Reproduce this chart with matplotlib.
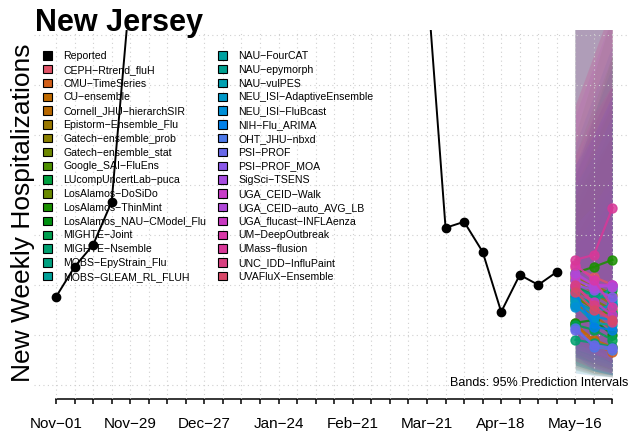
import matplotlib
matplotlib.use('Agg')
import matplotlib.pyplot as plt
import matplotlib.dates as mdates
from matplotlib.patches import Patch
import pandas as pd

plt.rcParams['font.family'] = ['Liberation Sans', 'DejaVu Sans']

W, H = 630, 433

# ---------------- data ----------------
report_dates = pd.date_range('2025-11-01', '2026-05-09', freq='7D')
report_values = [88, 118, 140, 183, 395, 720, 1150, 1680, 2250, 2400, 1900, 1450,
                 1200, 1050, 980, 900, 820, 700, 580, 470, 405, 157, 163, 133,
                 73, 110, 100, 113]

fc_dates = pd.date_range('2026-05-16', periods=3, freq='7D')

models = ['CEPH-Rtrend_fluH', 'CMU-TimeSeries', 'CU-ensemble', 'Cornell_JHU-hierarchSIR',
          'Epistorm-Ensemble_Flu', 'Gatech-ensemble_prob', 'Gatech-ensemble_stat',
          'Google_SAI-FluEns', 'LUcompUncertLab-puca', 'LosAlamos-DoSiDo',
          'LosAlamos-ThinMint', 'LosAlamos_NAU-CModel_Flu', 'MIGHTE-Joint',
          'MIGHTE-Nsemble', 'MOBS-EpyStrain_Flu', 'MOBS-GLEAM_RL_FLUH',
          'NAU-FourCAT', 'NAU-epymorph', 'NAU-vulPES', 'NEU_ISI-AdaptiveEnsemble',
          'NEU_ISI-FluBcast', 'NIH-Flu_ARIMA', 'OHT_JHU-nbxd', 'PSI-PROF',
          'PSI-PROF_MOA', 'SigSci-TSENS', 'UGA_CEID-Walk', 'UGA_CEID-auto_AVG_LB',
          'UGA_flucast-INFLAenza', 'UM-DeepOutbreak', 'UMass-flusion',
          'UNC_IDD-InfluPaint', 'UVAFluX-Ensemble']

model_colors = ['#E05468', '#D2601A', '#C06A00', '#B86800', '#9A7800', '#8A8000',
                '#6E8800', '#4E9000', '#00A040', '#6A8A00', '#1A9000', '#009010',
                '#00A050', '#00A070', '#00A080', '#00A098', '#00A0A0', '#00A090',
                '#00A0B0', '#0098C8', '#0090D8', '#0080E8', '#4C78E8', '#6868E8',
                '#8A58E8', '#A84CE0', '#C83CC8', '#B048D8', '#C838C0', '#D838A8',
                '#D83898', '#D84080', '#D84868']

fc_median = [[118, 108, 100], [62, 40, 33], [60, 45, 38], [80, 70, 55],
             [105, 92, 80], [108, 100, 90], [95, 85, 75], [88, 76, 70],
             [98, 90, 95], [85, 80, 72], [112, 118, 125], [62, 65, 50],
             [60, 55, 45], [45, 42, 38], [95, 90, 85], [82, 75, 80],
             [88, 82, 98], [90, 80, 72], [80, 62, 60], [85, 70, 82],
             [78, 68, 65], [92, 58, 55], [57, 38, 35], [55, 40, 37],
             [100, 95, 88], [105, 97, 100], [110, 100, 100], [112, 100, 98],
             [98, 83, 70], [120, 105, 78], [125, 130, 177], [100, 80, 63],
             [93, 75, 65]]

fc_lower = [[45, 35, 30], [20, 12, 10], [15, 10, 8], [30, 20, 15],
            [40, 32, 25], [45, 35, 28], [38, 30, 22], [30, 22, 15],
            [22, 14, 10], [28, 20, 14], [40, 35, 30], [18, 12, 10],
            [20, 14, 10], [12, 10, 8], [35, 28, 22], [25, 18, 12],
            [28, 22, 18], [15, 10, 8], [20, 14, 10], [32, 25, 20],
            [28, 22, 16], [30, 14, 10], [12, 9, 8], [20, 14, 10],
            [40, 32, 26], [36, 30, 26], [24, 16, 10], [32, 22, 15],
            [28, 18, 12], [45, 32, 22], [45, 40, 36], [16, 11, 8],
            [24, 16, 12]]

fc_upper = [[210, 250, 280], [150, 180, 210], [170, 210, 250], [190, 240, 280],
            [210, 260, 300], [200, 240, 290], [190, 220, 250], [230, 280, 330],
            [380, 480, 600], [250, 310, 370], [360, 450, 540], [210, 270, 330],
            [180, 220, 260], [140, 170, 200], [220, 260, 300], [370, 460, 560],
            [220, 270, 320], [420, 560, 700], [240, 290, 340], [200, 230, 270],
            [210, 250, 290], [220, 250, 290], [160, 180, 210], [140, 160, 190],
            [220, 260, 300], [270, 320, 370], [470, 600, 750], [380, 470, 560],
            [280, 330, 380], [230, 270, 300], [370, 480, 650], [420, 520, 640],
            [280, 330, 380]]

tick_dates = pd.date_range('2025-11-01', '2026-05-30', freq='7D')
tick_labels = ['Nov-01', 'Nov-29', 'Dec-27', 'Jan-24', 'Feb-21', 'Mar-21',
               'Apr-18', 'May-16']
grid_values = [0, 50, 100, 150, 200, 250, 300, 350]

# ---------------- layout ----------------
fig = plt.figure(figsize=(W / 100, H / 100), dpi=100)

d0 = mdates.date2num(tick_dates[0])
d1 = mdates.date2num(tick_dates[-1])
pad = 0.04 * (d1 - d0)
px_per_day = 18.55 / 7
left_px = 56 - pad * px_per_day
width_px = (d1 - d0 + 2 * pad) * px_per_day
top_px, bot_px = 30, 398.6
ax = fig.add_axes([left_px / W, (H - bot_px) / H, width_px / W, (bot_px - top_px) / H])
ax.set_xlim(d0 - pad, d1 + pad)
ax.set_ylim(-13.6, 354.6)

# bands
for c, lo, up in zip(model_colors, fc_lower, fc_upper):
    ax.fill_between(fc_dates, lo, up, color=c, alpha=0.11, lw=0, zorder=1)

# axes styling
for s in ['top', 'right', 'left']:
    ax.spines[s].set_visible(False)
ax.spines['bottom'].set_bounds(d0, d1)
ax.spines['bottom'].set_linewidth(1.1)

label_map = {}
for lab in tick_labels:
    year = '2025' if lab[:3] in ('Nov', 'Dec') else '2026'
    label_map[pd.Timestamp(f'{year}-{lab}')] = lab.replace('-', '\u2212')
ax.set_xticks(tick_dates)
ax.set_xticklabels([label_map.get(d, '') for d in tick_dates], fontsize=11)
ax.tick_params(axis='x', length=3.3, width=1.1, pad=10)
ax.set_yticks(grid_values)
ax.tick_params(axis='y', length=0, labelleft=False)
ax.grid(True, color='#d0d0d0', linestyle=(0, (1, 3)), lw=0.8)
ax.set_axisbelow(False)

# forecasts
for c, med in zip(model_colors, fc_median):
    ax.plot(fc_dates, med, color=c, lw=1.6, marker='o', ms=6.5, alpha=0.85, zorder=4)

# reported
ax.plot(report_dates, report_values, color='black', lw=1.4, marker='o', ms=6, zorder=5)

# legend
handles = [Patch(facecolor='black', edgecolor='black', lw=0.8, label='Reported')]
handles += [Patch(facecolor=c, edgecolor='black', lw=0.8, label=m.replace('-', '\u2212'))
            for m, c in zip(models, model_colors)]
leg = ax.legend(handles=handles, ncol=2, loc='upper left',
                bbox_to_anchor=(42.7 / W, 1 - 51.0 / H), bbox_transform=fig.transFigure,
                frameon=False, fontsize=7.6, handlelength=0.85, handleheight=0.85,
                handletextpad=1.1, columnspacing=1.1, labelspacing=0.36,
                borderpad=0, borderaxespad=0)
leg.set_zorder(2.6)

fig.text(35 / W, 1 - 31.5 / H, 'New Jersey', fontsize=22, fontweight='bold',
         ha='left', va='baseline')
fig.text(23 / W, 1 - 213 / H, 'New Weekly Hospitalizations', rotation=90,
         fontsize=19, ha='center', va='center')
fig.text(628 / W, 1 - 383 / H, 'Bands: 95% Prediction Intervals', fontsize=9,
         ha='right', va='center')

fig.savefig('out.png', dpi=100)
